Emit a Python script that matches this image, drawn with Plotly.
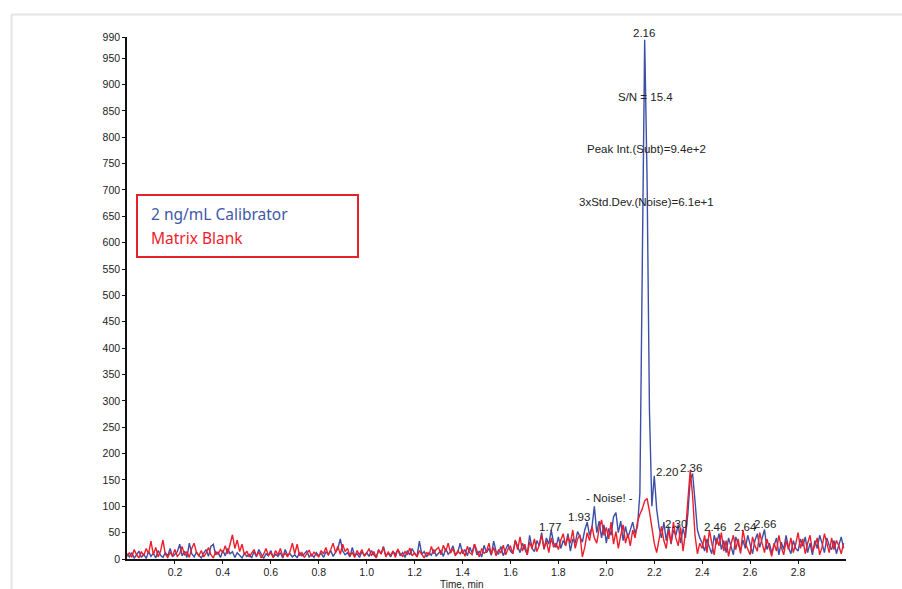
import plotly.graph_objects as go

# Retention time grid, 0.00 - 2.99 min in 0.01 min steps
time_min = [round(i * 0.01, 2) for i in range(300)]

# Extracted ion chromatogram intensities (counts)
calibrator_2ng = [
    10, 4, 12, 2, 8, 15, 3, 9, 1, 14,
    5, 11, 2, 16, 7, 3, 12, 6, 20, 4,
    9, 14, 28, 6, 15, 3, 30, 10, 4, 13,
    7, 2, 11, 18, 5, 24, 28, 8, 13, 3,
    16, 6, 20, 10, 14, 3, 12, 7, 2, 11,
    5, 9, 2, 14, 4, 18, 8, 1, 10, 6,
    16, 3, 9, 5, 12, 2, 18, 7, 10, 4,
    8, 2, 13, 6, 10, 15, 4, 9, 3, 12,
    6, 11, 3, 14, 8, 16, 5, 12, 20, 38,
    15, 8, 12, 4, 22, 6, 10, 3, 14, 7,
    12, 5, 16, 8, 3, 18, 10, 24, 6, 11,
    4, 14, 9, 18, 6, 12, 3, 16, 8, 20,
    10, 5, 34, 9, 14, 4, 12, 7, 18, 6,
    11, 16, 5, 20, 9, 14, 25, 8, 12, 30,
    10, 18, 6, 22, 12, 28, 8, 15, 4, 26,
    12, 20, 7, 34, 14, 9, 24, 6, 18, 28,
    15, 10, 36, 22, 12, 30, 18, 8, 45, 20,
    14, 35, 25, 50, 18, 40, 28, 55, 30, 22,
    42, 20, 35, 26, 48, 15, 38, 30, 52, 40,
    32, 55, 70, 45, 60, 100, 50, 72, 40, 65,
    30, 58, 45, 80, 88, 50, 72, 35, 62, 40,
    55, 70, 48, 62, 125, 620, 985, 720, 280, 100,
    158, 95, 60, 40, 70, 35, 62, 28, 55, 45,
    65, 30, 58, 40, 85, 150, 162, 110, 55, 40,
    30, 15, 38, 22, 10, 45, 28, 48, 18, 35,
    12, 40, 25, 8, 42, 30, 15, 36, 20, 45,
    28, 10, 35, 48, 22, 40, 56, 18, 30, 12,
    25, 40, 8, 32, 18, 45, 22, 10, 35, 20,
    15, 38, 24, 42, 12, 30, 8, 35, 20, 45,
    30, 12, 40, 25, 18, 35, 10, 28, 42, 20,
]

matrix_blank = [
    5, 12, 3, 18, 8, 2, 14, 6, 20, 10,
    34, 8, 22, 4, 15, 36, 9, 3, 12, 6,
    18, 5, 10, 24, 7, 14, 3, 20, 30, 12,
    6, 16, 4, 11, 22, 8, 2, 14, 9, 18,
    12, 25, 10, 30, 46, 20, 36, 14, 28, 8,
    15, 4, 10, 18, 6, 13, 2, 9, 20, 7,
    12, 3, 16, 8, 20, 5, 11, 4, 14, 30,
    10, 28, 6, 12, 3, 9, 17, 5, 13, 8,
    4, 16, 10, 22, 7, 18, 30, 12, 24, 9,
    28, 14, 20, 6, 12, 3, 16, 8, 18, 5,
    11, 20, 6, 14, 2, 17, 9, 22, 4, 13,
    7, 15, 3, 19, 10, 5, 14, 8, 21, 6,
    12, 4, 16, 9, 2, 13, 7, 24, 10, 18,
    22, 8, 26, 14, 30, 11, 20, 6, 15, 10,
    18, 5, 24, 12, 8, 28, 15, 4, 20, 11,
    14, 30, 9, 22, 6, 17, 12, 26, 8, 19,
    24, 10, 35, 18, 42, 15, 28, 8, 32, 20,
    38, 14, 26, 45, 20, 34, 12, 40, 22, 30,
    18, 36, 48, 25, 42, 30, 55, 20, 38, 46,
    4, 22, 50, 35, 62, 40, 30, 58, 74, 45,
    60, 38, 70, 28, 52, 20, 45, 65, 30, 48,
    25, 55, 40, 70, 85, 95, 110, 115, 90, 60,
    30, 12, 40, 62, 35, 20, 55, 30, 70, 40,
    25, 60, 15, 50, 110, 168, 120, 45, 10, 30,
    20, 45, 12, 55, 30, 8, 40, 25, 50, 15,
    35, 5, 28, 45, 18, 38, 10, 55, 30, 20,
    8, 42, 25, 15, 50, 30, 12, 38, 20, 5,
    30, 15, 45, 22, 8, 35, 18, 40, 12, 28,
    50, 20, 38, 10, 30, 45, 15, 25, 40, 8,
    22, 48, 30, 12, 40, 18, 35, 25, 10, 30,
]

y_ticks = list(range(0, 951, 50)) + [990]
x_ticks = [0.2, 0.4, 0.6, 0.8, 1.0, 1.2, 1.4, 1.6, 1.8, 2.0, 2.2, 2.4, 2.6, 2.8]
x_tick_text = [f"{v:.1f}" for v in x_ticks]

# Peak retention-time labels: (text, time, intensity)
peak_labels = [
    ("2.20", 2.254, 165),
    ("2.36", 2.354, 173),
    ("- Noise! -", 2.012, 116),
    ("1.93", 1.885, 80),
    ("1.77", 1.763, 61),
    ("2.30", 2.291, 66),
    ("2.46", 2.453, 61),
    ("2.64", 2.579, 61),
    ("2.66", 2.661, 66),
]

# Signal-to-noise summary for the 2.16 min peak
sn_labels = [
    ("S/N = 15.4", 2.163, 876),
    ("Peak Int.(Subt)=9.4e+2", 2.168, 778),
    ("3xStd.Dev.(Noise)=6.1e+1", 2.168, 678),
]

BLUE = "#3b4fa6"
RED = "#ee1d2b"
TICK_FONT = dict(family="Liberation Sans, Arial, sans-serif", size=10.5, color="#222222")
LABEL_FONT = dict(family="Liberation Sans, Arial, sans-serif", size=11.5, color="#222222")

fig = go.Figure()
fig.add_trace(go.Scatter(x=time_min, y=calibrator_2ng, mode="lines",
                         line=dict(color=BLUE, width=1.4), name="2 ng/mL Calibrator"))
fig.add_trace(go.Scatter(x=time_min, y=matrix_blank, mode="lines",
                         line=dict(color=RED, width=1.4), name="Matrix Blank"))

annotations = []
for text, t, v in peak_labels + sn_labels:
    annotations.append(dict(x=t, y=v, xref="x", yref="y", text=text, showarrow=False,
                            xanchor="center", yanchor="middle", font=LABEL_FONT))

# Apex label sits just above the top of the intensity axis
annotations.append(dict(x=2.158, y=1.0077, xref="x", yref="paper", text="2.16", showarrow=False,
                        xanchor="center", yanchor="middle", font=LABEL_FONT))

# Legend text inside the outlined box
annotations.append(dict(x=0.031, y=0.661, xref="paper", yref="paper", text="2 ng/mL Calibrator",
                        showarrow=False, xanchor="left", yanchor="middle",
                        font=dict(family="Noto Sans, sans-serif", size=15.5, color="#4058a8")))
annotations.append(dict(x=0.031, y=0.615, xref="paper", yref="paper", text="Matrix Blank",
                        showarrow=False, xanchor="left", yanchor="middle",
                        font=dict(family="Noto Sans, sans-serif", size=15.5, color=RED)))

# Axis title
annotations.append(dict(x=0.466, y=-0.0345, xref="paper", yref="paper", text="Time, min",
                        showarrow=False, xanchor="center", yanchor="top",
                        font=dict(family="Liberation Sans, Arial, sans-serif", size=10, color="#222222")))

shapes = [
    # legend outline
    dict(type="rect", xref="paper", yref="paper", x0=0.0139, x1=0.3213, y0=0.5785, y1=0.6973,
         line=dict(color="#e8202a", width=2), fillcolor="rgba(0,0,0,0)"),
    # outer panel frame
    dict(type="line", xref="paper", yref="paper", x0=-0.1606, x1=1.2, y0=1.0431, y1=1.0431,
         line=dict(color="#e4e4e4", width=2)),
    dict(type="line", xref="paper", yref="paper", x0=-0.1606, x1=-0.1606, y0=1.0431, y1=-0.1,
         line=dict(color="#e4e4e4", width=2)),
]

fig.update_layout(
    width=902, height=589,
    margin=dict(l=127, r=56, t=37, b=30),
    paper_bgcolor="white", plot_bgcolor="white",
    showlegend=False,
    annotations=annotations,
    shapes=shapes,
    xaxis=dict(range=[0, 3.0], tickvals=x_ticks, ticktext=x_tick_text,
               showgrid=False, zeroline=False, showline=True, linecolor="#111111", linewidth=1.5,
               ticks="outside", ticklen=3, tickcolor="#111111", tickfont=TICK_FONT),
    yaxis=dict(range=[0, 990], tickvals=y_ticks,
               showgrid=False, zeroline=False, showline=True, linecolor="#111111", linewidth=1.5,
               ticks="outside", ticklen=3, tickcolor="#111111", tickfont=TICK_FONT),
)

fig.write_html("out.html")
